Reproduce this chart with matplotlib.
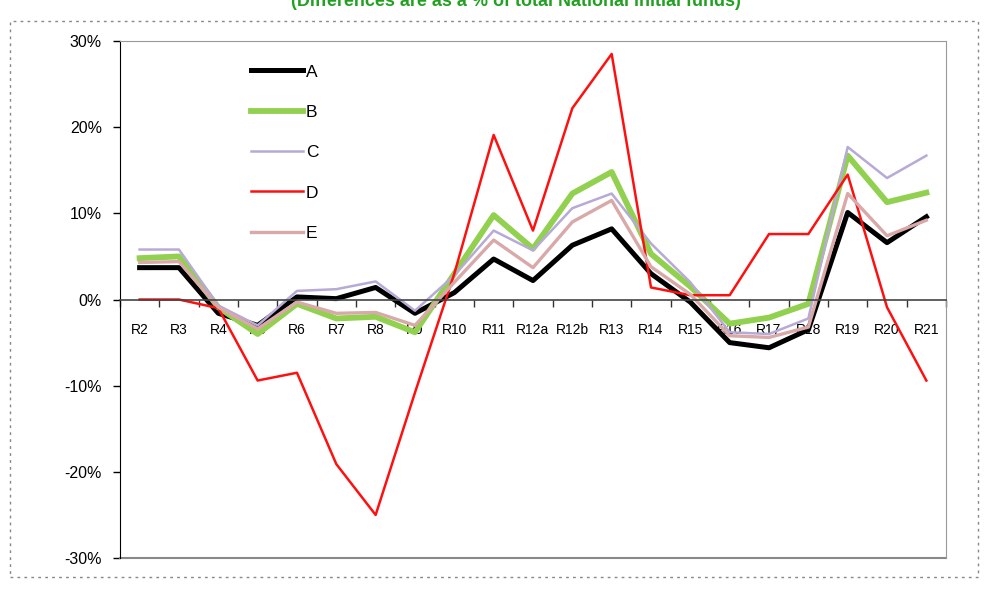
import matplotlib.pyplot as plt
from matplotlib.patches import Rectangle
from matplotlib.ticker import FuncFormatter, MultipleLocator

regions = ['R2', 'R3', 'R4', 'R5', 'R6', 'R7', 'R8', 'R9', 'R10', 'R11', 'R12a',
           'R12b', 'R13', 'R14', 'R15', 'R16', 'R17', 'R18', 'R19', 'R20', 'R21']

# differences in % of total national initial funds
a = [3.7, 3.7, -1.6, -3.0, 0.3, 0.1, 1.4, -1.6, 0.8, 4.7, 2.2,
     6.3, 8.2, 3.0, -0.3, -5.0, -5.6, -3.5, 10.1, 6.6, 9.6]
b = [4.8, 5.0, -0.9, -4.0, -0.5, -2.2, -2.0, -3.8, 3.0, 9.8, 5.9,
     12.3, 14.8, 5.3, 1.5, -2.8, -2.1, -0.5, 16.7, 11.3, 12.4]
c = [5.8, 5.8, -0.7, -3.0, 1.0, 1.2, 2.1, -1.3, 2.8, 8.0, 5.7,
     10.6, 12.3, 6.5, 2.0, -3.8, -4.0, -2.2, 17.7, 14.1, 16.7]
d = [0.0, 0.0, -1.0, -9.4, -8.5, -19.1, -25.0, -10.8, 3.0, 19.1, 8.0,
     22.2, 28.5, 1.4, 0.5, 0.5, 7.6, 7.6, 14.5, -0.9, -9.4]
e = [4.3, 4.4, -0.9, -3.4, -0.3, -1.6, -1.5, -3.0, 2.0, 6.9, 3.7,
     9.0, 11.5, 3.8, 0.6, -4.2, -4.4, -3.2, 12.3, 7.4, 9.2]

plt.rcParams['font.family'] = ['Liberation Sans', 'DejaVu Sans']

fig = plt.figure(figsize=(9.93, 5.92), dpi=100)
ax = fig.add_axes([0.1208, 0.0574, 0.8319, 0.8733])

x = range(len(regions))
ax.plot(x, a, color='black', lw=3.6, label='A')
ax.plot(x, b, color='#92d050', lw=4.2, label='B')
ax.plot(x, c, color='#b7aad6', lw=1.8, label='C')
ax.plot(x, d, color='#ff1010', lw=1.8, label='D')
ax.plot(x, e, color='#d9a8a8', lw=2.4, label='E')

ax.set_xlim(-0.5, 20.5)
ax.set_ylim(-30, 30)
ax.yaxis.set_major_locator(MultipleLocator(10))
ax.yaxis.set_major_formatter(FuncFormatter(lambda v, p: '%d%%' % round(v)))
ax.tick_params(axis='y', length=5, width=1, labelsize=11.5, pad=8, direction='out')

ax.set_xticks(list(x))
ax.set_xticklabels(regions, fontsize=8.5)
ax.set_xticks([i - 0.5 for i in range(len(regions) + 1)], minor=True)
ax.tick_params(axis='x', which='major', length=0, pad=17)
ax.tick_params(axis='x', which='minor', length=5, width=1, color='#333333', direction='out')

ax.spines['bottom'].set_position(('data', 0))
ax.spines['bottom'].set_color('#444444')
ax.spines['bottom'].set_linewidth(1.2)
ax.spines['left'].set_color('black')
ax.spines['top'].set_color('#999999')
ax.spines['right'].set_color('#999999')
ax.axhline(-30, color='#888888', lw=1.5, clip_on=False)

leg = ax.legend(loc='upper left', bbox_to_anchor=(0.14, 0.985), frameon=False,
                fontsize=12.5, handlelength=3.0, handletextpad=0.15, labelspacing=1.45)

fig.text(0.52, 0.997, '(Differences are as a % of total National initial funds)',
         color='#22a022', fontsize=13, fontweight='bold', ha='center', va='center')

fig.patches.append(Rectangle((0.01, 0.025), 0.975, 0.94, transform=fig.transFigure,
                             fill=False, ec='#888888', lw=1, ls=(0, (2, 3))))

plt.savefig('out.png', dpi=100)
